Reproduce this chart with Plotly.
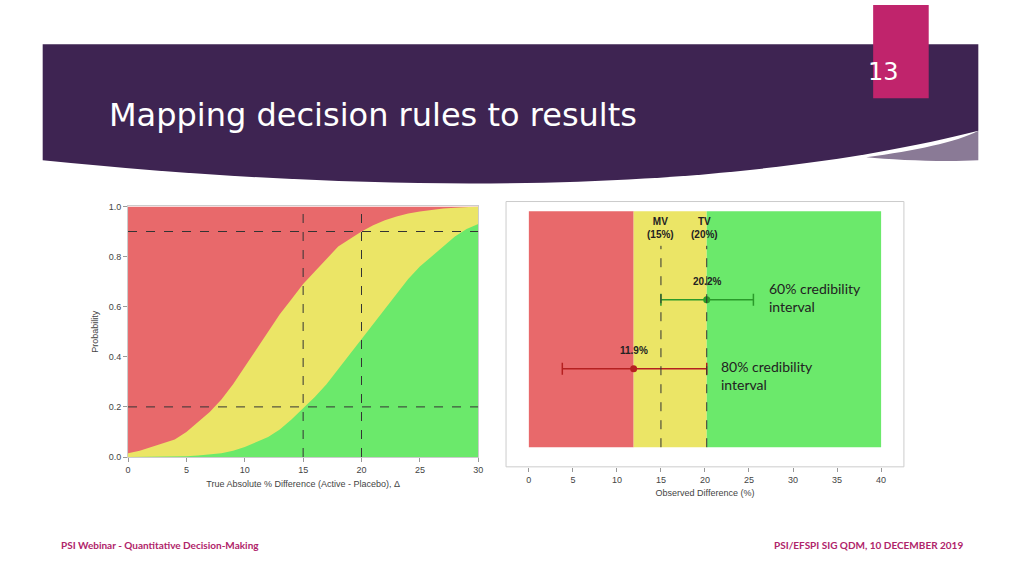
import plotly.graph_objects as go

W, H = 1024, 576
def px(x): return x / W
def py(y): return 1 - y / H

# Left chart data
delta = [0, 1, 2, 3, 4, 5, 6, 7, 8, 9, 10, 11, 12, 13, 14, 15, 16, 17, 18, 19, 20, 21, 22, 23, 24, 25, 26, 27, 28, 29, 30]
p_go_or_consider = [0.015, 0.025, 0.04, 0.055, 0.07, 0.1, 0.14, 0.18, 0.23, 0.29, 0.36, 0.43, 0.50, 0.57, 0.63, 0.69, 0.74, 0.79, 0.84, 0.87, 0.90, 0.925, 0.945, 0.96, 0.972, 0.98, 0.987, 0.992, 0.995, 0.998, 1.0]
p_go = [0.0, 0.0, 0.001, 0.001, 0.002, 0.003, 0.006, 0.01, 0.015, 0.025, 0.04, 0.06, 0.08, 0.11, 0.15, 0.195, 0.24, 0.29, 0.35, 0.41, 0.47, 0.53, 0.59, 0.65, 0.71, 0.76, 0.80, 0.84, 0.88, 0.91, 0.93]
prob_cut = [0.2, 0.9]
mv, tv = 15, 20

# Right chart data
est_go, ci_go = 20.2, (15.0, 25.5)
est_stop, ci_stop = 11.9, (3.8, 20.2)
zone_edges = [0, 11.9, 20.2, 40]

RED, YEL, GRN = "#e8696b", "#ebe566", "#6be96b"
fig = go.Figure()

fig.add_trace(go.Scatter(x=delta, y=[1]*len(delta), mode="lines", line=dict(width=0), fill="tozeroy", fillcolor=RED, xaxis="x", yaxis="y", hoverinfo="skip"))
fig.add_trace(go.Scatter(x=delta, y=p_go_or_consider, mode="lines", line=dict(width=0), fill="tozeroy", fillcolor=YEL, xaxis="x", yaxis="y"))
fig.add_trace(go.Scatter(x=delta, y=p_go, mode="lines", line=dict(width=0), fill="tozeroy", fillcolor=GRN, xaxis="x", yaxis="y"))

shapes = []
for c in prob_cut:
    shapes.append(dict(type="line", xref="x", yref="y", x0=0, x1=30, y0=c, y1=c, line=dict(color="#333", width=1, dash="dash")))
for v in (mv, tv):
    shapes.append(dict(type="line", xref="x", yref="y", x0=v, x1=v, y0=0, y1=1, line=dict(color="#333", width=1, dash="dash")))

for (a, b), col in zip(zip(zone_edges[:-1], zone_edges[1:]), [RED, YEL, GRN]):
    shapes.append(dict(type="rect", xref="x2", yref="y2", x0=a, x1=b, y0=0.074, y1=0.963, fillcolor=col, line=dict(width=0), layer="below"))
for v in (mv, est_go):
    shapes.append(dict(type="line", xref="x2", yref="y2", x0=v, x1=v, y0=0.074, y1=0.833, line=dict(color="#333", width=1, dash="dash")))
shapes.append(dict(type="rect", xref="paper", yref="paper", x0=px(507), x1=px(908), y0=py(470), y1=py(200), line=dict(color="#ccc", width=1)))

fig.add_trace(go.Scatter(x=[est_go], y=[0.63], mode="markers", marker=dict(color="#2a9a2a", size=7),
    error_x=dict(type="data", symmetric=False, array=[ci_go[1]-est_go], arrayminus=[est_go-ci_go[0]], color="#2a9a2a", width=6, thickness=1.5), xaxis="x2", yaxis="y2"))
fig.add_trace(go.Scatter(x=[est_stop], y=[0.37], mode="markers", marker=dict(color="#b52020", size=7),
    error_x=dict(type="data", symmetric=False, array=[ci_stop[1]-est_stop], arrayminus=[est_stop-ci_stop[0]], color="#b52020", width=6, thickness=1.5), xaxis="x2", yaxis="y2"))

shapes.insert(0, dict(type="path", xref="paper", yref="paper", layer="below",
    path=f"M {px(40)},{py(40)} L {px(983)},{py(40)} L {px(983)},{py(128)} C {px(800)},{py(175)} {px(500)},{py(205)} {px(40)},{py(158)} Z",
    fillcolor="#3e2452", line=dict(width=0)))
shapes.insert(1, dict(type="path", xref="paper", yref="paper", layer="below",
    path=f"M {px(870)},{py(155)} C {px(920)},{py(148)} {px(960)},{py(140)} {px(983)},{py(128)} L {px(983)},{py(158)} C {px(950)},{py(160)} {px(900)},{py(158)} {px(870)},{py(155)} Z",
    fillcolor="#8a7a96", line=dict(width=0)))
shapes.append(dict(type="rect", xref="paper", yref="paper", x0=px(877), x1=px(933), y0=py(95), y1=1.0, fillcolor="#c0246c", line=dict(width=0)))

M = dict(xref="paper", yref="paper", showarrow=False, yanchor="middle")
D = dict(xref="x2", yref="y2", showarrow=False, yanchor="middle")
ann = [
    dict(x=px(105), y=py(112), text="Mapping decision rules to results", xanchor="left", font=dict(size=32, color="white", family="DejaVu Sans"), **M),
    dict(x=px(905), y=py(68), text="13", font=dict(size=24, color="white", family="DejaVu Sans"), **M),
    dict(x=px(56), y=py(550), text="<b>PSI Webinar - Quantitative Decision-Making</b>", xanchor="left", font=dict(size=10, color="#b0246a", family="Lato"), **M),
    dict(x=px(970), y=py(550), text="<b>PSI/EFSPI SIG QDM, 10 DECEMBER 2019</b>", xanchor="right", font=dict(size=10, color="#b0246a", family="Lato"), **M),
    dict(x=mv, y=0.90, text="<b>MV<br>(15%)</b>", font=dict(size=10, color="#222", family="Arial"), **D),
    dict(x=tv, y=0.90, text="<b>TV<br>(20%)</b>", font=dict(size=10, color="#222", family="Arial"), **D),
    dict(x=est_go, y=0.70, text="<b>20.2%</b>", font=dict(size=10, color="#222", family="Arial"), **D),
    dict(x=est_stop, y=0.44, text="<b>11.9%</b>", font=dict(size=10, color="#222", family="Arial"), **D),
    dict(x=px(770), y=py(298), text="60% credibility<br>interval", xanchor="left", align="left", font=dict(size=14, color="#222", family="Lato"), **M),
    dict(x=px(722), y=py(377), text="80% credibility<br>interval", xanchor="left", align="left", font=dict(size=14, color="#222", family="Lato"), **M),
]

ax_font = dict(size=9, color="#444", family="Arial")
fig.update_layout(
    autosize=True, margin=dict(l=0, r=0, t=0, b=0), showlegend=False,
    paper_bgcolor="white", plot_bgcolor="white", shapes=shapes, annotations=ann,
    xaxis=dict(domain=[px(126), px(479)], range=[0, 30], tickvals=[0, 5, 10, 15, 20, 25, 30], showgrid=False, zeroline=False,
               ticks="outside", ticklen=4, tickcolor="#999", tickfont=ax_font, linecolor="#ccc", showline=True, mirror=True,
               title=dict(text="True Absolute % Difference (Active - Placebo), Δ", font=ax_font, standoff=6)),
    yaxis=dict(domain=[py(460), py(205)], range=[0, 1], tickvals=[0, 0.2, 0.4, 0.6, 0.8, 1.0], tickformat=".1f", showgrid=False, zeroline=False,
               ticks="outside", ticklen=4, tickcolor="#999", tickfont=ax_font, linecolor="#ccc", showline=True, mirror=True,
               title=dict(text="Probability", font=ax_font, standoff=8)),
    xaxis2=dict(domain=[px(507), px(908)], range=[-2.59, 42.59], tickvals=list(range(0, 45, 5)), showgrid=False, zeroline=False,
                ticks="outside", ticklen=4, tickcolor="#999", tickfont=ax_font, anchor="y2",
                title=dict(text="Observed Difference (%)", font=ax_font, standoff=6)),
    yaxis2=dict(domain=[py(470), py(200)], range=[0, 1], visible=False, anchor="x2"),
)
fig.write_html("out.html", default_width="100vw", default_height="100vh", config={"displayModeBar": False})
with open("out.html", encoding="utf-8") as f:
    html = f.read()
html = html.replace("<head>", "<head><style>html,body{margin:0;padding:0;overflow:hidden}</style>", 1)
with open("out.html", "w", encoding="utf-8") as f:
    f.write(html)
